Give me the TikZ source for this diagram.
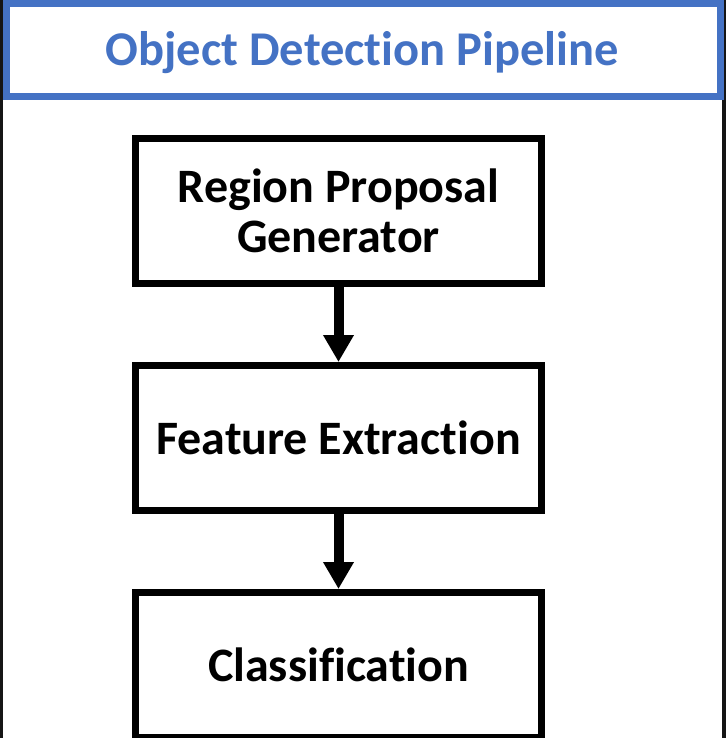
\documentclass[tikz,border=0pt]{standalone}
\usepackage{fontspec}
\setmainfont{Carlito}[Ligatures={NoCommon}]
\usetikzlibrary{positioning,arrows.meta}
\definecolor{titleblue}{HTML}{4472C4}
\definecolor{framegray}{HTML}{151515}
\tikzset{
  stage/.style={draw=black, line width=7pt, minimum width=406pt, minimum height=145pt,
    align=center, font=\fontsize{48}{50}\selectfont\bfseries, inner sep=0pt},
  flowarrow/.style={line width=10pt, -{Triangle[width=29pt,length=27pt]}}
}
\begin{document}
\begin{tikzpicture}[x=1pt,y=-1pt]
                \useasboundingbox (0,0) rectangle (725,738);
                \fill[white] (0,0) rectangle (725,738);
                \draw[framegray, line width=6pt] (0,740) -- (0,0) -- (725,0) -- (725,740);

                % title bar
                \draw[titleblue, line width=7pt] (6.5,3.5) rectangle (720.5,96.5);
                \node[anchor=base, text=titleblue, font=\fontsize{48.5}{55}\selectfont\bfseries] (title) at (362.5,66) {Object Detection Pipeline};

                \node[stage] (rpg) at (338.5,211) {Region Proposal\\Generator};
                \node[stage, below=75pt of rpg] (feat) {Feature Extraction};
                \node[stage, below=75pt of feat] (cls) {Classification};

                \draw[flowarrow] (rpg) -- (feat);
                \draw[flowarrow] (feat) -- (cls);
                % \draw[flowarrow] (cls) -- ++(0,60);

            \end{tikzpicture}
\end{document}
